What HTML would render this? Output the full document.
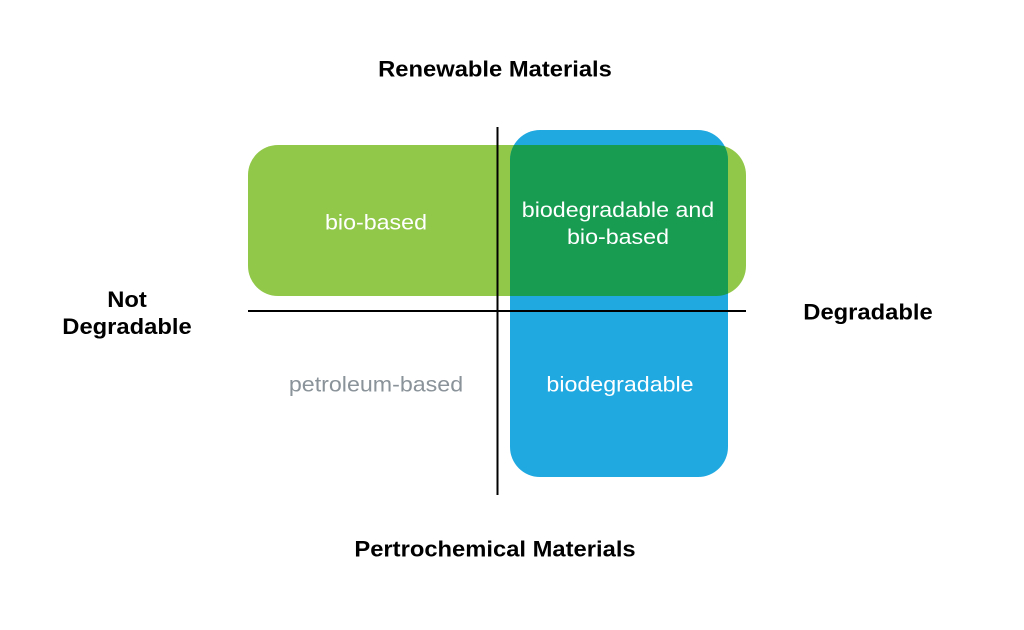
<!DOCTYPE html>
<html><head><meta charset="utf-8"><style>
body{margin:0;width:1024px;height:630px;background:#fff;position:relative;overflow:hidden;font-family:"Liberation Sans",sans-serif}
.t{position:absolute;transform:translate(-50%,-50%) scaleX(1.08);white-space:nowrap;text-align:center}
.b{font-weight:bold;font-size:22px;color:#000;line-height:27px}
.w{color:#fff;font-size:21.5px;line-height:27px}
</style></head><body>
<svg width="1024" height="630" style="position:absolute;left:0;top:0">
<rect x="248" y="145" width="498" height="151" rx="30" fill="#92c84a"/>
<rect x="510" y="130" width="218" height="347" rx="30" fill="#20a9e1"/>
<clipPath id="c"><rect x="248" y="145" width="498" height="151" rx="30"/></clipPath>
<rect x="510" y="130" width="218" height="347" rx="30" fill="#179c52" clip-path="url(#c)"/>
<line x1="497.5" y1="127" x2="497.5" y2="495" stroke="#000" stroke-width="2"/>
<line x1="248" y1="311" x2="746" y2="311" stroke="#000" stroke-width="2"/>
</svg>
<div class="t b" style="left:495px;top:69px">Renewable Materials</div>
<div class="t b" style="left:495px;top:549px">Pertrochemical Materials</div>
<div class="t b" style="left:127px;top:313px">Not<br>Degradable</div>
<div class="t b" style="left:868px;top:312px">Degradable</div>
<div class="t w" style="left:376px;top:223px">bio-based</div>
<div class="t w" style="left:618px;top:224px">biodegradable and<br>bio-based</div>
<div class="t w" style="left:376px;top:385px;color:#8a9399">petroleum-based</div>
<div class="t w" style="left:620px;top:385px">biodegradable</div>
</body></html>
